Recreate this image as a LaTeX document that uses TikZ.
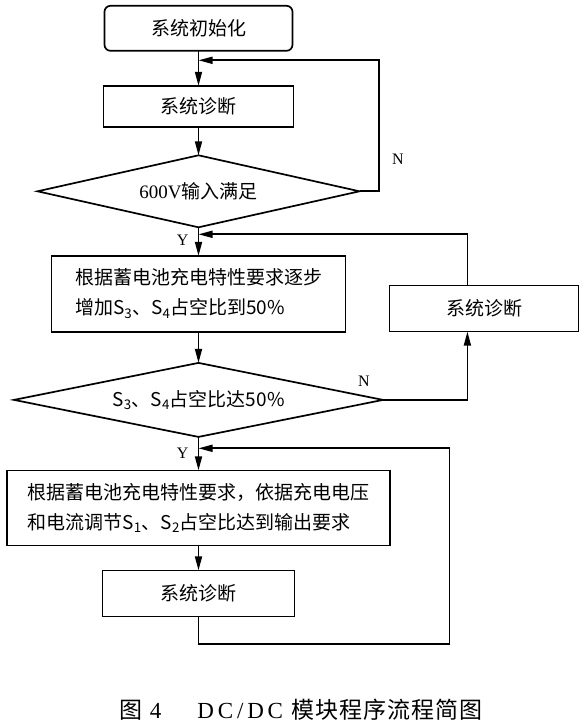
\documentclass[tikz,border=0pt]{standalone}
\usepackage{fontspec}
\setmainfont{Liberation Serif}
\newfontfamily\cjk{Noto Sans CJK SC}
\usetikzlibrary{shapes.geometric,arrows.meta}

\begin{document}
\begin{tikzpicture}[x=1pt, y=1pt,
  every path/.style={line width=1.7pt},
  every node/.style={font={\cjk\fontsize{19}{30}\selectfont}, outer sep=0pt},
  stepbox/.style={draw=black, rectangle, minimum width=190pt, minimum height=44pt},
  startbox/.style={stepbox, rounded corners=6pt},
  ask/.style={draw=black, diamond, aspect=4.5, inner sep=0pt},
  flow/.style={draw=black, -{Triangle[length=14pt,width=7pt]}},
  yn/.style={font={\rmfamily\fontsize{16}{16}\selectfont}, inner sep=1pt}]
\useasboundingbox (0,0) rectangle (584,-725);
\node[startbox, minimum width=188pt, minimum height=45pt] (init) at (198.5,-28.3) {系统初始化};
\node[stepbox, below of=init, node distance=78pt, minimum height=41pt] (diag1) {系统诊断};
\node[ask, below of=diag1, node distance=85pt, minimum width=322pt, minimum height=72pt] (check1) {{\rmfamily 600V}输入满足};
\node[stepbox, below of=check1, node distance=102.6pt, minimum width=294pt, minimum height=76pt, align=left] (charge)
  {根据蓄电池充电特性要求逐步\\增加S\textsubscript{3}、S\textsubscript{4}占空比到50\%};
\node[stepbox, minimum width=189pt, minimum height=46pt] (diag2) at (484,-308.6) {系统诊断};
\node[ask, below of=charge, node distance=106pt, minimum width=369pt, minimum height=74pt] (check2)
  {S\textsubscript{3}、S\textsubscript{4}占空比达50\%};
\node[stepbox, below of=check2, node distance=108pt, minimum width=383pt, minimum height=75pt, align=left] (adjust)
  {根据蓄电池充电特性要求，依据充电电压\\和电流调节S\textsubscript{1}、S\textsubscript{2}占空比达到输出要求};
\node[stepbox, below of=adjust, node distance=85.5pt, minimum width=192pt, minimum height=46pt] (diag3) {系统诊断};
\node[font={\cjk\fontsize{23}{23}\selectfont}] (caption) at (301,-710)
  {图\hspace{7pt}{\rmfamily 4}\hspace{36pt}{\rmfamily D\,C\,/\,D\,C}\hspace{8pt}模\kern1pt 块\kern1pt 程\kern1pt 序\kern1pt 流\kern1pt 程\kern1pt 简\kern1pt 图};

\coordinate (join1) at (198.5,-60.3);
\coordinate (join2) at (198.5,-234.3);
\coordinate (join3) at (198.5,-448.3);
\coordinate (corner3) at (449.5,-644);

\draw[flow] (init) -- (diag1);
\draw[flow] (diag1) -- (check1);
\draw[flow] (check1.east) -- ++(19.6,0) |- node[yn, pos=0.122, right=12pt] (no1) {N} (join1);
\draw[flow] (check1) -- node[yn, pos=0.45, left=9pt] (yes1) {Y} (charge);
\draw[flow] (charge) -- (check2);
\draw[flow] (check2.east) -| node[yn, pos=0, xshift=-19pt, yshift=19pt] (no2) {N} ([xshift=-16.6pt]diag2.south);
\draw[flow] ([xshift=-16.6pt]diag2.north) |- (join2);
\draw[flow] (check2) -- node[yn, pos=0.49, left=9pt] (yes2) {Y} (adjust);
\draw[flow] (adjust) -- (diag3);
\draw[flow] (diag3.south) |- (corner3) |- (join3);
\end{tikzpicture}
\end{document}
